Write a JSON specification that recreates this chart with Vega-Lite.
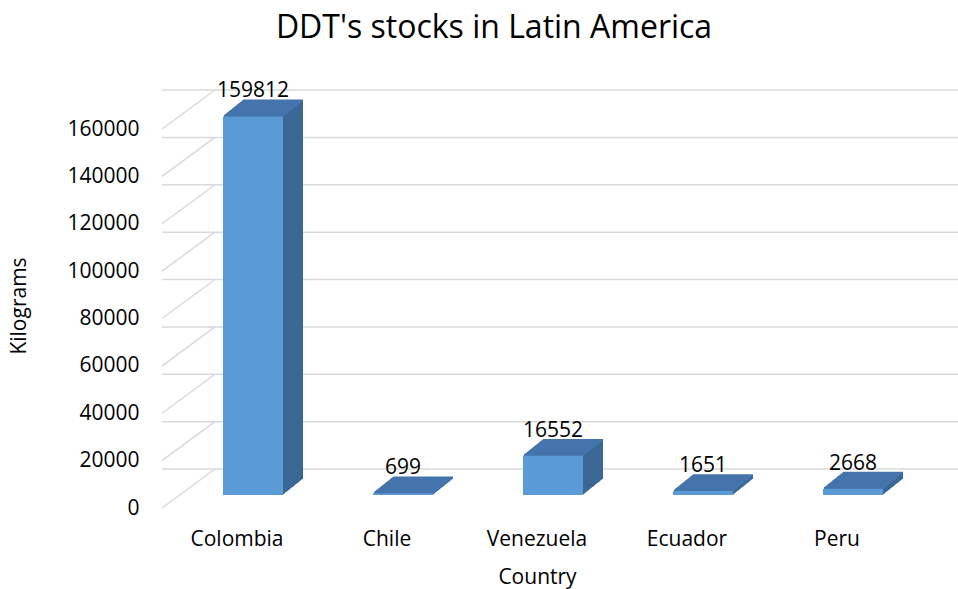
{
  "$schema": "https://vega.github.io/schema/vega-lite/v6.json",
  "width": 750,
  "height": 379,
  "autosize": {"type": "none"},
  "padding": {"left": 162, "top": 116, "right": 46, "bottom": 94},
  "background": "white",
  "config": {"view": {"stroke": null}, "font": "Open Sans"},
  "title": {"text": "DDT's stocks in Latin America", "fontSize": 32, "font": "Open Sans", "fontWeight": "normal", "color": "#000000", "anchor": "middle", "dx": -43, "baseline": "alphabetic", "offset": 10},
  "resolve": {"axis": {"x": "independent", "y": "independent"}},
  "datasets": {
    "stocks": [
      {"country": "Colombia", "kg": 159812},
      {"country": "Chile", "kg": 699},
      {"country": "Venezuela", "kg": 16552},
      {"country": "Ecuador", "kg": 1651},
      {"country": "Peru", "kg": 2668}
    ],
    "grid": [{"v": 0}, {"v": 20000}, {"v": 40000}, {"v": 60000}, {"v": 80000}, {"v": 100000}, {"v": 120000}, {"v": 140000}, {"v": 160000}]
  },
  "layer": [
    {
      "data": {"name": "grid"},
      "mark": {"type": "rule", "color": "#D9D9D9", "strokeWidth": 1.5, "xOffset": 53, "x2Offset": 50, "yOffset": -26},
      "encoding": {"y": {"field": "v", "type": "quantitative", "scale": {"domain": [0, 160000], "nice": false}, "axis": null}}
    },
    {
      "data": {"name": "grid"},
      "mark": {"type": "rule", "color": "#D9D9D9", "strokeWidth": 1.5, "xOffset": -75, "x2Offset": -22, "yOffset": 13, "y2Offset": -26},
      "encoding": {
        "x": {"datum": "Colombia", "type": "nominal", "scale": {"domain": ["Colombia", "Chile", "Venezuela", "Ecuador", "Peru"]}, "axis": null},
        "x2": {"datum": "Colombia"},
        "y": {"field": "v", "type": "quantitative", "axis": null},
        "y2": {"field": "v"}
      }
    },
    {
      "data": {"name": "stocks"},
      "encoding": {
        "x": {"field": "country", "type": "nominal", "sort": null,
          "scale": {"domain": ["Colombia", "Chile", "Venezuela", "Ecuador", "Peru"], "paddingInner": 0.6, "paddingOuter": 0.3},
          "axis": {"orient": "bottom", "title": "Country", "labelAngle": 0, "ticks": false, "domain": false, "labelFont": "Open Sans", "labelFontSize": 21, "labelColor": "#000000", "labelPadding": 33, "titleFont": "Open Sans", "titleFontSize": 21, "titleFontWeight": "normal", "titleColor": "#000000", "titlePadding": 17}},
        "y": {"field": "kg", "type": "quantitative",
          "scale": {"domain": [0, 160000], "nice": false},
          "axis": {"orient": "left", "title": "Kilograms", "values": [0, 20000, 40000, 60000, 80000, 100000, 120000, 140000, 160000], "format": "d", "grid": false, "ticks": false, "domain": false, "labelFont": "Open Sans", "labelFontSize": 21, "labelColor": "#000000", "labelPadding": 23, "labelOffset": 13, "titleFont": "Open Sans", "titleFontSize": 21, "titleFontWeight": "normal", "titleColor": "#000000", "titlePadding": 37}}
      },
      "layer": [
        {"mark": {"type": "bar", "color": "#3B6794", "xOffset": 36, "x2Offset": 36, "yOffset": -16, "y2Offset": -16}},
        {"mark": {"type": "bar", "color": "#3B6794", "xOffset": 35, "x2Offset": 35, "yOffset": -15.2, "y2Offset": -15.2}},
        {"mark": {"type": "bar", "color": "#3B6794", "xOffset": 34, "x2Offset": 34, "yOffset": -14.4, "y2Offset": -14.4}},
        {"mark": {"type": "bar", "color": "#3B6794", "xOffset": 33, "x2Offset": 33, "yOffset": -13.6, "y2Offset": -13.6}},
        {"mark": {"type": "bar", "color": "#3B6794", "xOffset": 32, "x2Offset": 32, "yOffset": -12.8, "y2Offset": -12.8}},
        {"mark": {"type": "bar", "color": "#3B6794", "xOffset": 31, "x2Offset": 31, "yOffset": -12, "y2Offset": -12}},
        {"mark": {"type": "bar", "color": "#3B6794", "xOffset": 30, "x2Offset": 30, "yOffset": -11.2, "y2Offset": -11.2}},
        {"mark": {"type": "bar", "color": "#3B6794", "xOffset": 29, "x2Offset": 29, "yOffset": -10.4, "y2Offset": -10.4}},
        {"mark": {"type": "bar", "color": "#3B6794", "xOffset": 28, "x2Offset": 28, "yOffset": -9.6, "y2Offset": -9.6}},
        {"mark": {"type": "bar", "color": "#3B6794", "xOffset": 27, "x2Offset": 27, "yOffset": -8.8, "y2Offset": -8.8}},
        {"mark": {"type": "bar", "color": "#3B6794", "xOffset": 26, "x2Offset": 26, "yOffset": -8, "y2Offset": -8}},
        {"mark": {"type": "bar", "color": "#3B6794", "xOffset": 25, "x2Offset": 25, "yOffset": -7.2, "y2Offset": -7.2}},
        {"mark": {"type": "bar", "color": "#3B6794", "xOffset": 24, "x2Offset": 24, "yOffset": -6.4, "y2Offset": -6.4}},
        {"mark": {"type": "bar", "color": "#3B6794", "xOffset": 23, "x2Offset": 23, "yOffset": -5.6, "y2Offset": -5.6}},
        {"mark": {"type": "bar", "color": "#3B6794", "xOffset": 22, "x2Offset": 22, "yOffset": -4.8, "y2Offset": -4.8}},
        {"mark": {"type": "bar", "color": "#3B6794", "xOffset": 21, "x2Offset": 21, "yOffset": -4, "y2Offset": -4}},
        {"mark": {"type": "bar", "color": "#3B6794", "xOffset": 20, "x2Offset": 20, "yOffset": -3.2, "y2Offset": -3.2}},
        {"mark": {"type": "bar", "color": "#3B6794", "xOffset": 19, "x2Offset": 19, "yOffset": -2.4, "y2Offset": -2.4}},
        {"mark": {"type": "bar", "color": "#3B6794", "xOffset": 18, "x2Offset": 18, "yOffset": -1.6, "y2Offset": -1.6}},
        {"mark": {"type": "bar", "color": "#3B6794", "xOffset": 17, "x2Offset": 17, "yOffset": -0.8, "y2Offset": -0.8}},
        {"mark": {"type": "tick", "color": "#4474AB", "size": 60, "thickness": 1.8, "opacity": 1, "xOffset": 36, "yOffset": -16}},
        {"mark": {"type": "tick", "color": "#4474AB", "size": 60, "thickness": 1.8, "opacity": 1, "xOffset": 35, "yOffset": -15.2}},
        {"mark": {"type": "tick", "color": "#4474AB", "size": 60, "thickness": 1.8, "opacity": 1, "xOffset": 34, "yOffset": -14.4}},
        {"mark": {"type": "tick", "color": "#4474AB", "size": 60, "thickness": 1.8, "opacity": 1, "xOffset": 33, "yOffset": -13.6}},
        {"mark": {"type": "tick", "color": "#4474AB", "size": 60, "thickness": 1.8, "opacity": 1, "xOffset": 32, "yOffset": -12.8}},
        {"mark": {"type": "tick", "color": "#4474AB", "size": 60, "thickness": 1.8, "opacity": 1, "xOffset": 31, "yOffset": -12}},
        {"mark": {"type": "tick", "color": "#4474AB", "size": 60, "thickness": 1.8, "opacity": 1, "xOffset": 30, "yOffset": -11.2}},
        {"mark": {"type": "tick", "color": "#4474AB", "size": 60, "thickness": 1.8, "opacity": 1, "xOffset": 29, "yOffset": -10.4}},
        {"mark": {"type": "tick", "color": "#4474AB", "size": 60, "thickness": 1.8, "opacity": 1, "xOffset": 28, "yOffset": -9.6}},
        {"mark": {"type": "tick", "color": "#4474AB", "size": 60, "thickness": 1.8, "opacity": 1, "xOffset": 27, "yOffset": -8.8}},
        {"mark": {"type": "tick", "color": "#4474AB", "size": 60, "thickness": 1.8, "opacity": 1, "xOffset": 26, "yOffset": -8}},
        {"mark": {"type": "tick", "color": "#4474AB", "size": 60, "thickness": 1.8, "opacity": 1, "xOffset": 25, "yOffset": -7.2}},
        {"mark": {"type": "tick", "color": "#4474AB", "size": 60, "thickness": 1.8, "opacity": 1, "xOffset": 24, "yOffset": -6.4}},
        {"mark": {"type": "tick", "color": "#4474AB", "size": 60, "thickness": 1.8, "opacity": 1, "xOffset": 23, "yOffset": -5.6}},
        {"mark": {"type": "tick", "color": "#4474AB", "size": 60, "thickness": 1.8, "opacity": 1, "xOffset": 22, "yOffset": -4.8}},
        {"mark": {"type": "tick", "color": "#4474AB", "size": 60, "thickness": 1.8, "opacity": 1, "xOffset": 21, "yOffset": -4}},
        {"mark": {"type": "tick", "color": "#4474AB", "size": 60, "thickness": 1.8, "opacity": 1, "xOffset": 20, "yOffset": -3.2}},
        {"mark": {"type": "tick", "color": "#4474AB", "size": 60, "thickness": 1.8, "opacity": 1, "xOffset": 19, "yOffset": -2.4}},
        {"mark": {"type": "tick", "color": "#4474AB", "size": 60, "thickness": 1.8, "opacity": 1, "xOffset": 18, "yOffset": -1.6}},
        {"mark": {"type": "tick", "color": "#4474AB", "size": 60, "thickness": 1.8, "opacity": 1, "xOffset": 17, "yOffset": -0.8}},
        {"mark": {"type": "bar", "color": "#5B9BD5", "xOffset": 16, "x2Offset": 16}},
        {"mark": {"type": "text", "font": "Open Sans", "fontSize": 21, "color": "#000000", "baseline": "alphabetic", "xOffset": 16, "yOffset": -19},
         "encoding": {"text": {"field": "kg", "type": "quantitative", "format": "d"}}}
      ]
    }
  ]
}
